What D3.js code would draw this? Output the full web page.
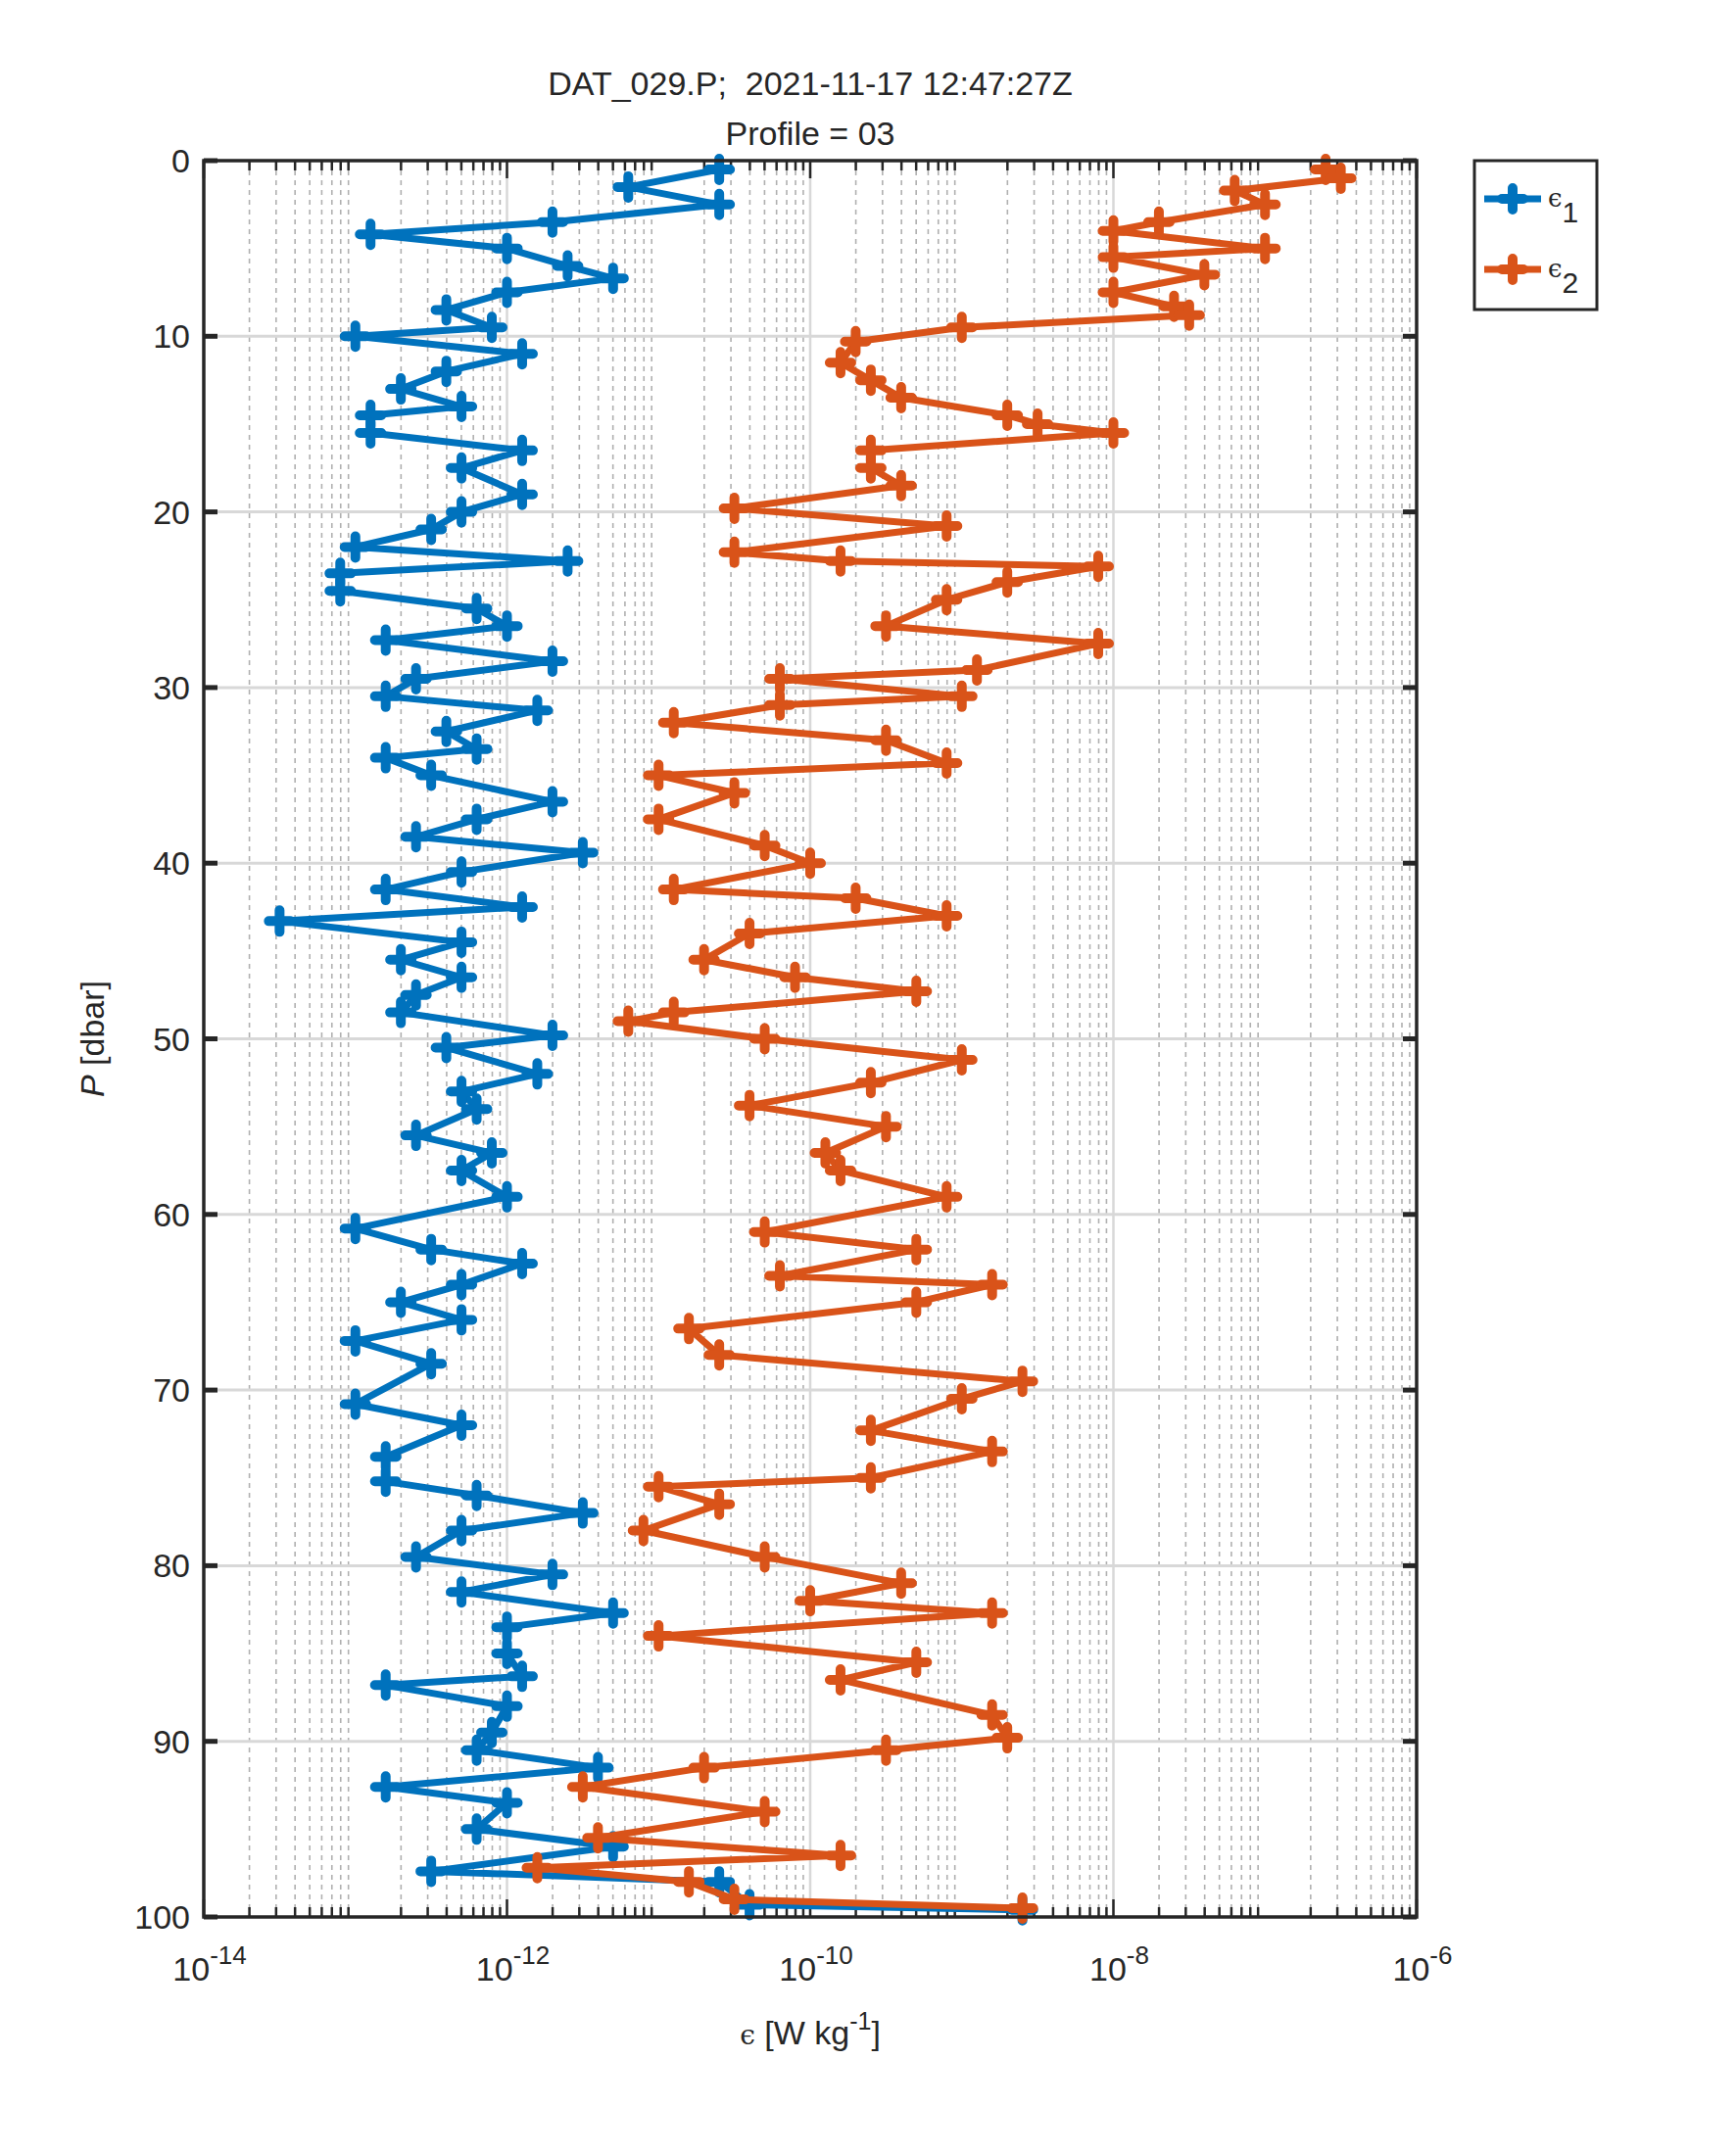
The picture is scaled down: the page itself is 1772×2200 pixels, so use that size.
<!DOCTYPE html>
<html><head><meta charset="utf-8">
<script src="https://cdn.jsdelivr.net/npm/d3@7"></script>
<style>body{margin:0;background:#fff}text{font-family:"Liberation Sans",Arial,sans-serif;fill:#262626}</style>
</head><body><svg id="c" width="1772" height="2200"></svg>
<script>
// pressure [dbar] and log10(epsilon)
var p1 = [0.5,1.5,2.5,3.5,4.2,5,6,6.7,7.5,8.5,9.5,10,11,12,13,14,14.5,15.5,16.5,17.5,19,20,21,22,22.8,23.5,24.5,25.5,26.5,27.3,28.5,29.5,30.5,31.3,32.5,33.5,34,35,36.5,37.5,38.5,39.4,40.5,41.5,42.5,43.3,44.5,45.5,46.5,47.5,48.5,49.8,50.5,52,53,54,55.5,56.5,57.5,59,60.8,62,62.8,64,65,66,67.2,68.5,70.8,72,73.8,75.2,76,77,78,79.5,80.5,81.5,82.7,83.5,85,86.3,86.8,88,89.5,90.5,91.5,92.6,93.5,95,96,97.4,98,99.3,99.6];
var logEps1 = [-10.6,-11.2,-10.6,-11.7,-12.9,-12.0,-11.6,-11.3,-12.0,-12.4,-12.1,-13.0,-11.9,-12.4,-12.7,-12.3,-12.9,-12.9,-11.9,-12.3,-11.9,-12.3,-12.5,-13.0,-11.6,-13.1,-13.1,-12.2,-12.0,-12.8,-11.7,-12.6,-12.8,-11.8,-12.4,-12.2,-12.8,-12.5,-11.7,-12.2,-12.6,-11.5,-12.3,-12.8,-11.9,-13.5,-12.3,-12.7,-12.3,-12.6,-12.7,-11.7,-12.4,-11.8,-12.3,-12.2,-12.6,-12.1,-12.3,-12.0,-13.0,-12.5,-11.9,-12.3,-12.7,-12.3,-13.0,-12.5,-13.0,-12.3,-12.8,-12.8,-12.2,-11.5,-12.3,-12.6,-11.7,-12.3,-11.3,-12.0,-12.0,-11.9,-12.8,-12.0,-12.1,-12.2,-11.4,-12.8,-12.0,-12.2,-11.3,-12.5,-10.6,-10.4,-8.6];
var p2 = [0.5,1,1.7,2.5,3.5,4,5,5.5,6.5,7.5,8.3,8.8,9.5,10.3,11.5,12.5,13.5,14.5,15,15.5,16.5,17.5,18.5,19.8,20.8,22.3,22.8,23.1,24,25,26.5,27.5,29,29.5,30.5,31,32,33,34.3,35,36,37.5,39,40,41.5,42,43,44,45.5,46.5,47.3,48.5,49,50,51.2,52.5,53.8,55,56.5,57.5,59,61,62,63.5,64,65,66.5,68,69.5,70.5,72.3,73.5,75,75.5,76.5,78,79.5,81,82,82.7,84,85.5,86.5,88.5,89.8,90.5,91.5,92.6,94,95.5,96.5,97.2,98,99,99.5];
var logEps2 = [-6.6,-6.5,-7.2,-7.0,-7.7,-8.0,-7.0,-8.0,-7.4,-8.0,-7.6,-7.5,-9.0,-9.7,-9.8,-9.6,-9.4,-8.7,-8.5,-8.0,-9.6,-9.6,-9.4,-10.5,-9.1,-10.5,-9.8,-8.1,-8.7,-9.1,-9.5,-8.1,-8.9,-10.2,-9.0,-10.2,-10.9,-9.5,-9.1,-11.0,-10.5,-11.0,-10.3,-10.0,-10.9,-9.7,-9.1,-10.4,-10.7,-10.1,-9.3,-10.9,-11.2,-10.3,-9.0,-9.6,-10.4,-9.5,-9.9,-9.8,-9.1,-10.3,-9.3,-10.2,-8.8,-9.3,-10.8,-10.6,-8.6,-9.0,-9.6,-8.8,-9.6,-11.0,-10.6,-11.1,-10.3,-9.4,-10.0,-8.8,-11.0,-9.3,-9.8,-8.8,-8.7,-9.5,-10.7,-11.5,-10.3,-11.4,-9.8,-11.8,-10.8,-10.5,-8.6];
var seriesNames = ["1","2"];
var colors = ["#0072BD","#D95319"];
var xTickExp = [-14,-12,-10,-8,-6];
var yTicks = [0,10,20,30,40,50,60,70,80,90,100];

var svg = d3.select("#c");
var L = 208, R = 1446, T = 164, B = 1957;
var x = d3.scaleLog().domain([1e-14, 1e-6]).range([L, R]);
var y = d3.scaleLinear().domain([0, 100]).range([T, B]);

// grid
var minor = [];
for (var e = -14; e < -6; e++) for (var m = 2; m < 10; m++) minor.push(m * Math.pow(10, e));
svg.append("g").selectAll("line").data(minor).enter().append("line")
  .attr("x1", d => x(d)).attr("x2", d => x(d)).attr("y1", T).attr("y2", B)
  .attr("stroke", "#b0b0b0").attr("stroke-width", 1.6).attr("stroke-dasharray", "5,5");
svg.append("g").selectAll("line").data(xTickExp.slice(1, -1)).enter().append("line")
  .attr("x1", d => x(Math.pow(10, d))).attr("x2", d => x(Math.pow(10, d))).attr("y1", T).attr("y2", B)
  .attr("stroke", "#d8d8d8").attr("stroke-width", 2.5);
svg.append("g").selectAll("line").data(yTicks.slice(1, -1)).enter().append("line")
  .attr("x1", L).attr("x2", R).attr("y1", d => y(d)).attr("y2", d => y(d))
  .attr("stroke", "#d8d8d8").attr("stroke-width", 3);

// ticks (inward)
var tk = svg.append("g").attr("stroke", "#262626").attr("stroke-width", 2.5);
minor.concat(xTickExp.map(d => Math.pow(10, d))).forEach(function (d) {
  var len = minor.indexOf(d) >= 0 ? 10 : 18;
  tk.append("line").attr("x1", x(d)).attr("x2", x(d)).attr("y1", T).attr("y2", T + len);
  tk.append("line").attr("x1", x(d)).attr("x2", x(d)).attr("y1", B).attr("y2", B - len);
});
yTicks.forEach(function (d) {
  tk.append("line").attr("x1", L).attr("x2", L + 14).attr("y1", y(d)).attr("y2", y(d)).attr("stroke-width", 5);
  tk.append("line").attr("x1", R).attr("x2", R - 14).attr("y1", y(d)).attr("y2", y(d)).attr("stroke-width", 5);
});

// data
function drawSeries(ps, ls, col) {
  var pts = ps.map((p, i) => [x(Math.pow(10, ls[i])), y(p)]);
  svg.append("path").attr("d", d3.line()(pts)).attr("fill", "none")
    .attr("stroke", col).attr("stroke-width", 7).attr("stroke-linejoin", "round");
  svg.append("g").selectAll("path").data(pts).enter().append("path")
    .attr("d", d => "M" + (d[0] - 11) + "," + d[1] + "h22M" + d[0] + "," + (d[1] - 11) + "v22")
    .attr("stroke", col).attr("stroke-width", 10).attr("stroke-linecap", "round");
}
drawSeries(p1, logEps1, colors[0]);
drawSeries(p2, logEps2, colors[1]);

// box
svg.append("rect").attr("x", L).attr("y", T).attr("width", R - L).attr("height", B - T)
  .attr("fill", "none").attr("stroke", "#262626").attr("stroke-width", 3.5);

// tick labels
svg.append("g").selectAll("text").data(yTicks).enter().append("text")
  .attr("x", L - 14).attr("y", d => y(d) + 12).attr("text-anchor", "end")
  .attr("font-size", 34).text(d => d);
var xl = svg.append("g").selectAll("text").data(xTickExp).enter().append("text")
  .attr("x", d => x(Math.pow(10, d)) + 6).attr("y", 2022).attr("text-anchor", "middle").attr("font-size", 34);
xl.append("tspan").text("10");
xl.append("tspan").attr("dy", -17).attr("font-size", 26).text(d => d);

// titles
svg.append("text").attr("x", 827).attr("y", 97).attr("text-anchor", "middle").attr("font-size", 34)
  .text("DAT_029.P;  2021-11-17 12:47:27Z").attr("style", "white-space:pre");
svg.append("text").attr("x", 827).attr("y", 148).attr("text-anchor", "middle").attr("font-size", 34)
  .text("Profile = 03");
var xt = svg.append("text").attr("x", 827).attr("y", 2087).attr("text-anchor", "middle").attr("font-size", 34);
xt.append("tspan").attr("font-family", "DejaVu Serif").attr("font-size", 28).text("ϵ");
xt.append("tspan").text(" [W kg");
xt.append("tspan").attr("dy", -15).attr("font-size", 25).text("-1");
xt.append("tspan").attr("dy", 15).text("]");
var yt = svg.append("text").attr("transform", "translate(106," + ((T + B) / 2) + ") rotate(-90)")
  .attr("text-anchor", "middle").attr("font-size", 34);
yt.append("tspan").attr("font-style", "italic").text("P");
yt.append("tspan").text(" [dbar]");

// legend
var lg = svg.append("g");
lg.append("rect").attr("x", 1505).attr("y", 164).attr("width", 125).attr("height", 152)
  .attr("fill", "#fff").attr("stroke", "#262626").attr("stroke-width", 3);
seriesNames.forEach(function (s, i) {
  var cy = 203 + i * 72;
  lg.append("line").attr("x1", 1515).attr("x2", 1573).attr("y1", cy).attr("y2", cy)
    .attr("stroke", colors[i]).attr("stroke-width", 7);
  lg.append("path").attr("d", "M1533," + cy + "h22M1544," + (cy - 11) + "v22")
    .attr("stroke", colors[i]).attr("stroke-width", 10).attr("stroke-linecap", "round");
  var t = lg.append("text").attr("x", 1580).attr("y", cy + 8).attr("font-size", 30);
  t.append("tspan").attr("font-family", "DejaVu Serif").attr("font-size", 26).text("ϵ");
  t.append("tspan").attr("dy", 16).text(s);
});
</script></body></html>
